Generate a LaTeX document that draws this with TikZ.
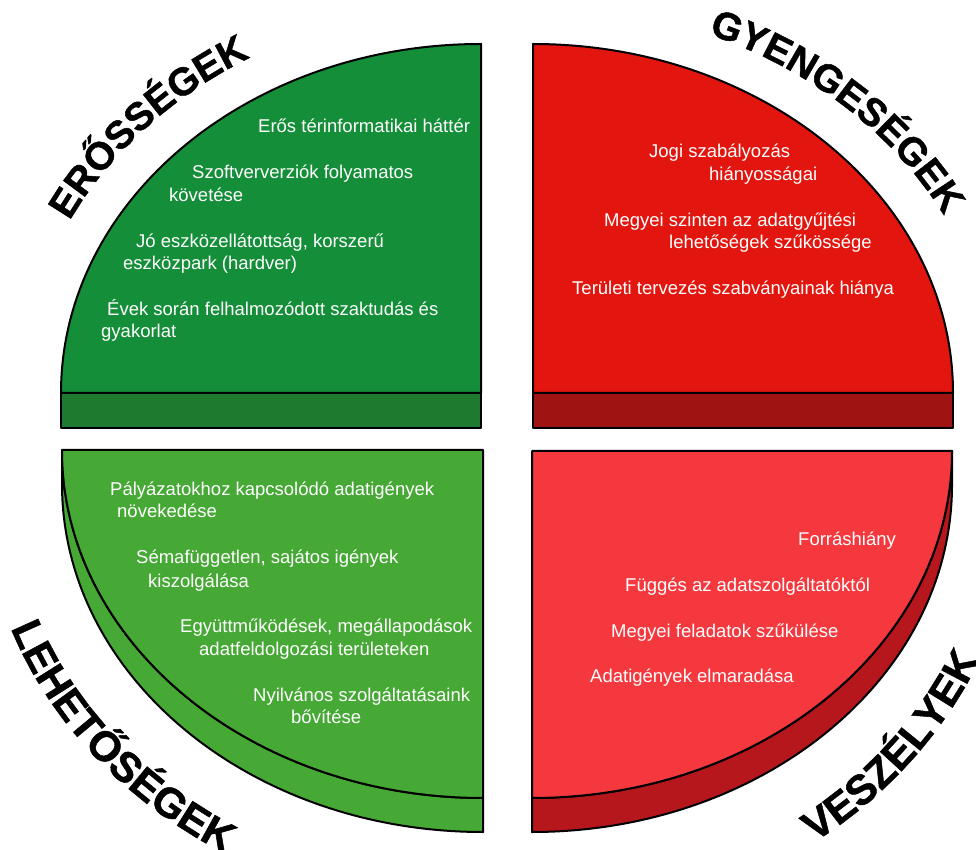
\documentclass[tikz,border=0pt]{standalone}
\usepackage{fontspec}
\setmainfont{Liberation Sans}
\newfontfamily\heavyface[FakeBold=1.2]{Liberation Sans Bold}
\usepackage{tikz}
\usetikzlibrary{decorations.text}
\definecolor{strgreen}{HTML}{148E38}
\definecolor{strside}{HTML}{1D7A2E}
\definecolor{weakred}{HTML}{E2160E}
\definecolor{weakside}{HTML}{A01313}
\definecolor{oppgreen}{HTML}{46A835}
\definecolor{thrred}{HTML}{F4383D}
\definecolor{thrside}{HTML}{B5171D}
\newcommand{\swotfont}{\fontsize{42}{42}\selectfont\heavyface}
\newcommand{\swottopfont}{\fontsize{39}{39}\selectfont\heavyface}

\begin{document}
\begin{tikzpicture}[x=1pt, y=1pt,
  slice/.style={draw=black, line width=2pt, line join=round},
  item/.style={white, font=\fontsize{18.5}{22}\selectfont, anchor=base west, inner sep=0pt}]
  % Page
  \fill[white] (0,0) rectangle (976,849);
  \useasboundingbox (0,0) rectangle (976,849);

  % Strengths (top left)
  \fill[strside, slice] (61,421) rectangle (481,456);
  \fill[strgreen, slice] (61,456) arc[start angle=180, end angle=90, x radius=420, y radius=349] -- (481,456) -- cycle;
  \node[item] (str1) at (258,716) {Erős térinformatikai háttér};
  \node[item] (str2a) at (192,670) {Szoftververziók folyamatos};
  \node[item] (str2b) at (169,647) {követése};
  \node[item] (str3a) at (136,601) {Jó eszközellátottság, korszerű};
  \node[item] (str3b) at (123,579) {eszközpark (hardver)};
  \node[item] (str4a) at (107,533) {Évek során felhalmozódott szaktudás és};
  \node[item] (str4b) at (101,511) {gyakorlat};

  % Weaknesses (top right)
  \fill[weakside, slice] (533,421) rectangle (953,456);
  \fill[weakred, slice] (533,456) -- (533,805) arc[start angle=90, end angle=0, x radius=420, y radius=349] -- cycle;
  \node[item] (weak1a) at (649,691) {Jogi szabályozás};
  \node[item] (weak1b) at (709,668) {hiányosságai};
  \node[item] (weak2a) at (604,622) {Megyei szinten az adatgyűjtési};
  \node[item] (weak2b) at (669,600) {lehetőségek szűkössége};
  \node[item] (weak3) at (572,554) {Területi tervezés szabványainak hiánya};

  % Opportunities (bottom left)
  \fill[oppgreen, slice] (62,399) -- (62,365) arc[start angle=180, end angle=270, x radius=421, y radius=348]
    -- (483,51) arc[start angle=270, end angle=180, x radius=421, y radius=348] -- cycle;
  \fill[oppgreen, slice] (62,399) -- (483,399) -- (483,51) arc[start angle=270, end angle=180, x radius=421, y radius=348] -- cycle;
  \node[item] (opp1a) at (110,353) {Pályázatokhoz kapcsolódó adatigények};
  \node[item] (opp1b) at (117,331) {növekedése};
  \node[item] (opp2a) at (136,286) {Sémafüggetlen, sajátos igények};
  \node[item] (opp2b) at (148,262) {kiszolgálása};
  \node[item] (opp3a) at (180,217) {Együttműködések, megállapodások};
  \node[item] (opp3b) at (199,194) {adatfeldolgozási területeken};
  \node[item] (opp4a) at (253,148) {Nyilvános szolgáltatásaink};
  \node[item] (opp4b) at (291,126) {bővítése};

  % Threats (bottom right)
  \fill[thrside, slice] (952,398) -- (952,364) arc[start angle=0, end angle=-90, x radius=420, y radius=347]
    -- (532,51) arc[start angle=-90, end angle=0, x radius=420, y radius=347] -- cycle;
  \fill[thrred, slice] (532,398) -- (952,398) arc[start angle=0, end angle=-90, x radius=420, y radius=347] -- cycle;
  \node[item] (thr1) at (798,304) {Forráshiány};
  \node[item] (thr2) at (625,258) {Függés az adatszolgáltatóktól};
  \node[item] (thr3) at (611,212) {Megyei feladatok szűkülése};
  \node[item] (thr4) at (590,167) {Adatigények elmaradása};

  % Curved titles
  \begin{scope}[shift={(481,456)}]
    \path[decorate, decoration={text along path, text={|\swottopfont|ERŐSSÉGEK}, text align=center}]
      (178.5:459 and 388) arc[start angle=178.5, end angle=98.5, x radius=459, y radius=388];
  \end{scope}
  \begin{scope}[shift={(533,456)}]
    \path[decorate, decoration={text along path, text={|\swottopfont|GYENGESÉGEK}, text align=center}]
      (86:462 and 388) arc[start angle=86, end angle=6, x radius=462, y radius=388];
  \end{scope}
  \begin{scope}[shift={(483,365)}]
    \path[decorate, decoration={text along path, text={|\swotfont|LEHETŐSÉGEK}, text align=center}]
      (178:501 and 431) arc[start angle=178, end angle=258, x radius=501, y radius=431];
  \end{scope}
  \begin{scope}[shift={(532,364)}]
    \path[decorate, decoration={text along path, text={|\swotfont|VESZÉLYEK}, text align=center}]
      (282:488 and 438) arc[start angle=282, end angle=362, x radius=488, y radius=438];
  \end{scope}
\end{tikzpicture}
\end{document}
